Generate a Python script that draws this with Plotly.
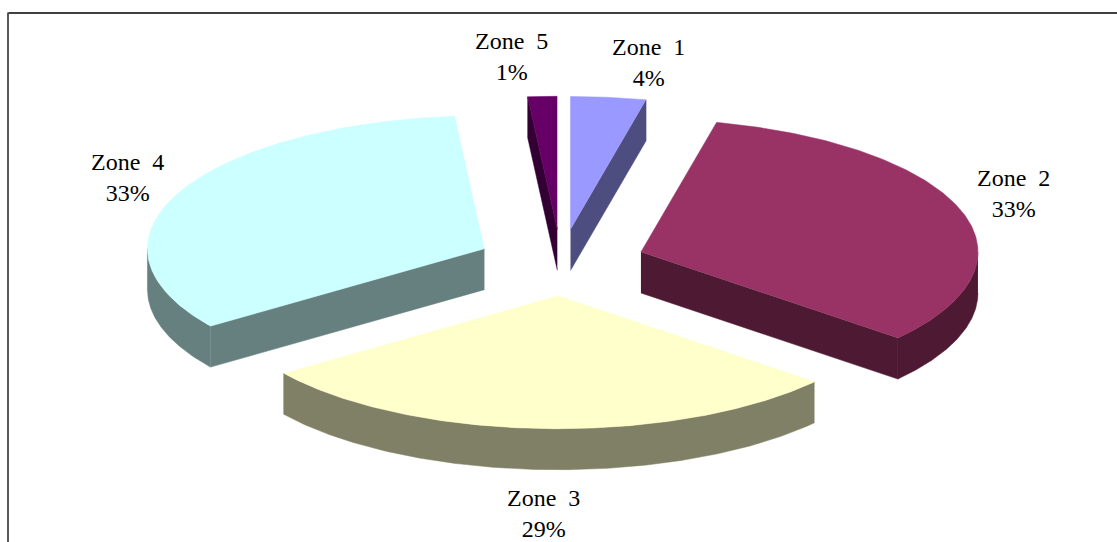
import numpy as np
import plotly.graph_objects as go

zones = ["Zone 1", "Zone 2", "Zone 3", "Zone 4", "Zone 5"]
shares = [3.6, 32.6, 28.9, 33.5, 1.4]
share_labels = ["4%", "33%", "29%", "33%", "1%"]
top_colors = ["#9999FF", "#993366", "#FFFFCC", "#CCFFFF", "#660066"]
wall_colors = ["#4D4D80", "#4D1933", "#808066", "#668080", "#330033"]

W, H = 1117, 542
CX, CY, RX, RY, DEPTH, EXPLODE = 561, 262.5, 337, 133, 41, 0.25
LABEL_X = [648, 1013, 543, 127, 511]
LABEL_Y = [62, 193, 513, 177, 56]
FONT = dict(family="Liberation Serif", size=24, color="#000000")

fracs = np.array(shares) / sum(shares)
edges = np.concatenate([[0], np.cumsum(fracs)]) * 2 * np.pi


def px(t, r=1.0):
    return r * RX * np.sin(t), -r * RY * np.cos(t)


def poly(fig, x, y, color, name):
    fig.add_trace(go.Scatter(
        x=list(x), y=list(y), mode="lines", fill="toself", fillcolor=color,
        line=dict(color=color, width=0.5), name=name, hoverinfo="name", showlegend=False,
    ))


fig = go.Figure()
for i in [0, 4, 1, 3, 2]:
    t0, t1 = edges[i], edges[i + 1]
    mx, my = px((t0 + t1) / 2, EXPLODE)
    ax, ay = CX + mx, CY + my
    ts = np.linspace(t0, t1, 160)
    ex, ey = px(ts)
    arcx, arcy = ax + ex, ay + ey
    # radial cut faces that look towards the viewer
    for k, visible in ((0, np.sin(t0) < -1e-6), (-1, np.sin(t1) > 1e-6)):
        if visible:
            poly(fig, [ax, arcx[k], arcx[k], ax], [ay, arcy[k], arcy[k] + DEPTH, ay + DEPTH],
                 wall_colors[i], zones[i])
    # curved outer wall, front half of the rim only
    lo, hi = max(t0, np.pi / 2), min(t1, 3 * np.pi / 2)
    if hi > lo:
        wx, wy = px(np.linspace(lo, hi, 160))
        wx, wy = ax + wx, ay + wy
        poly(fig, np.r_[wx, wx[::-1]], np.r_[wy, wy[::-1] + DEPTH], wall_colors[i], zones[i])
    # top face
    poly(fig, np.r_[ax, arcx], np.r_[ay, arcy], top_colors[i], zones[i])

for z, s, lx, ly in zip(zones, share_labels, LABEL_X, LABEL_Y):
    fig.add_annotation(x=lx, y=ly, xref="x", yref="y",
                       text=z.replace(" ", "\u00a0\u00a0") + f"<br>{s}", showarrow=False,
                       font=FONT, align="center", xanchor="center", yanchor="middle")

fig.add_shape(type="line", xref="x", yref="y", x0=8.5, x1=W, y0=13, y1=13,
              line=dict(color="#000000", width=1.5))
fig.add_shape(type="line", xref="x", yref="y", x0=8, x1=8, y0=12.5, y1=H,
              line=dict(color="#222222", width=1.5))

fig.update_layout(
    width=W, height=H, margin=dict(l=0, r=0, t=0, b=0),
    paper_bgcolor="#FFFFFF", plot_bgcolor="#FFFFFF", showlegend=False,
    xaxis=dict(range=[0, W], visible=False, fixedrange=True),
    yaxis=dict(range=[H, 0], visible=False, fixedrange=True),
)
fig.write_html("out.html", config=dict(displayModeBar=False),
               post_script="document.body.style.margin='0';document.body.style.overflow='hidden';")
